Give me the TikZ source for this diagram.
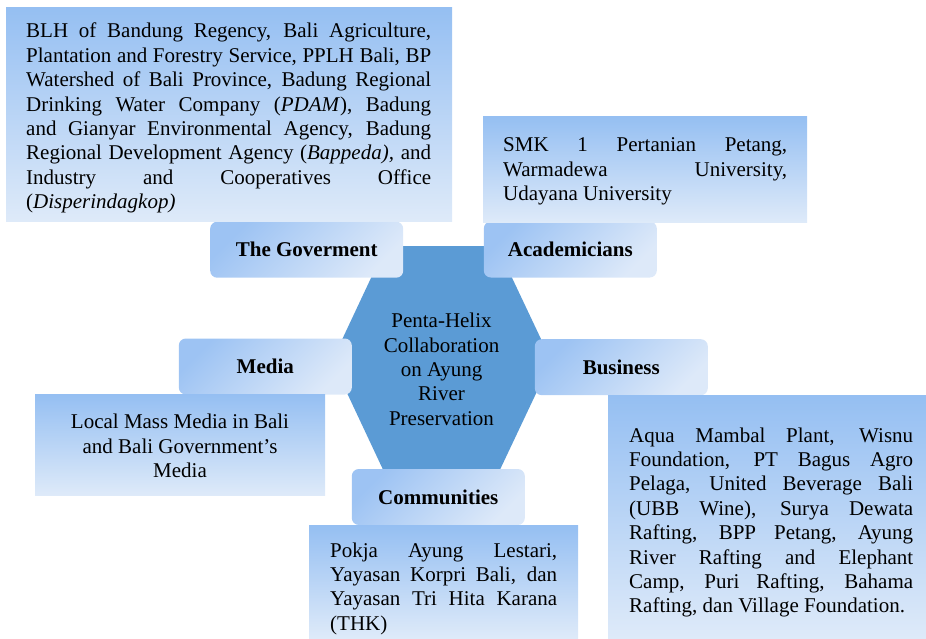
\documentclass[tikz,border=0pt]{standalone}
\usepackage{fontspec}
\setmainfont{Liberation Serif}
\definecolor{boxtop}{HTML}{95BFF2}
\definecolor{boxbot}{HTML}{DEEAF9}
\definecolor{lbltop}{HTML}{9DC3F3}
\definecolor{lblbot}{HTML}{DDE9F9}
\definecolor{hexblue}{HTML}{5B9BD5}
\begin{document}
\begin{tikzpicture}[x=1pt,y=-1pt,
  every node/.style={font=\fontsize{21}{24.4}\selectfont},
  infobox/.style={rectangle, anchor=north west, inner sep=0pt, top color=boxtop, bottom color=boxbot},
  infotext/.style={anchor=north west, inner sep=0pt, align=justify},
  helix/.style={rectangle, rounded corners=7pt, minimum width=173pt, minimum height=56pt, top color=lbltop, bottom color=lblbot, shading angle=45, font=\fontsize{21}{24.4}\selectfont\bfseries}]
\useasboundingbox (0,0) rectangle (926,638);
\fill[hexblue] (386,246) -- (497,246) -- (551.4,361) -- (497,476) -- (386,476) -- (332,361) -- cycle;
\node[align=center, anchor=north, inner sep=0pt] (core) at (441.5,313) {Penta-Helix\\Collaboration\\on Ayung\\River\\Preservation};
\node[helix, minimum width=193pt] (gov) at (306.7,249.7) {The Goverment};
\node[helix] (acad) at (570.3,249.5) {Academicians};
\node[helix] (media) at (265.3,366.5) {Media};
\node[helix] (bus) at (621.3,367.2) {Business};
\node[helix] (com) at (438.3,497) {Communities};
\node[infobox, minimum width=446pt, minimum height=214pt] (govbox) at (6,7) {};
\node[infobox, minimum width=324pt, minimum height=106pt] (acadbox) at (483,116) {};
\node[infobox, minimum width=290pt, minimum height=101pt] (mediabox) at (35,394) {};
\node[infobox, minimum width=318pt, minimum height=243pt] (busbox) at (608,395) {};
\node[infobox, minimum width=269pt, minimum height=113pt] (combox) at (309,525) {};
\node[infotext, text width=405pt] (govtext) at (26,23) {BLH of Bandung Regency, Bali Agriculture,\linebreak Plantation and Forestry Service, PPLH Bali, BP\linebreak Watershed of Bali Province, Badung Regional\linebreak Drinking Water Company (\textit{PDAM}), Badung\linebreak and Gianyar Environmental Agency, Badung\linebreak Regional Development Agency (\textit{Bappeda),} and\linebreak Industry and Cooperatives Office\linebreak (\textit{Disperindagkop)}};
\node[infotext, text width=284pt] (acadtext) at (503,137.5) {SMK 1 Pertanian Petang,\linebreak Warmadewa University,\linebreak Udayana University};
\node[align=center, anchor=north, inner sep=0pt] (mediatext) at (180,414) {Local Mass Media in Bali\\and Bali Government’s\\Media};
\node[infotext, text width=284pt] (bustext) at (629,427.4) {Aqua Mambal Plant, Wisnu\linebreak Foundation, PT Bagus Agro\linebreak Pelaga, United Beverage Bali\linebreak (UBB Wine), Surya Dewata\linebreak Rafting, BPP Petang, Ayung\linebreak River Rafting and Elephant\linebreak Camp, Puri Rafting, Bahama\linebreak Rafting, dan Village Foundation.};
\node[infotext, text width=227pt] (comtext) at (330,542.4) {Pokja Ayung Lestari,\linebreak Yayasan Korpri Bali, dan\linebreak Yayasan Tri Hita Karana\linebreak (THK)};
\end{tikzpicture}
\end{document}
